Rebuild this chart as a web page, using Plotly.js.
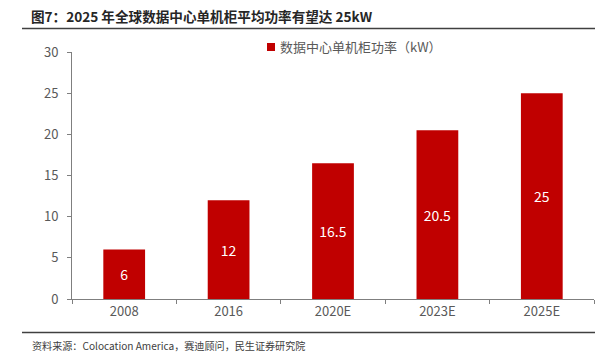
<!DOCTYPE html>
<html><head><meta charset="utf-8">
<script src="https://cdn.plot.ly/plotly-3.0.1.min.js"></script>
<style>html,body{margin:0;padding:0;background:#fff}#c{width:606px;height:358px}</style>
</head><body><div id="c"></div>
<script>
const categories = ["2008", "2016", "2020E", "2023E", "2025E"];
const values = [6, 12, 16.5, 20.5, 25];
const valueLabels = ["6", "12", "16.5", "20.5", "25"];
const seriesName = "数据中心单机柜功率（kW）";
const yTicks = [0, 5, 10, 15, 20, 25, 30];
const titleText = "图7：2025 年全球数据中心单机柜平均功率有望达 25kW";
const sourceText = "资料来源：Colocation America，赛迪顾问，民生证券研究院";

const FONT = "'Noto Sans CJK SC', 'Noto Sans', sans-serif";
const BAR = "#C00000";
const data = [{
  type: "bar",
  x: categories,
  y: values,
  name: seriesName,
  text: valueLabels,
  textposition: "inside",
  insidetextanchor: "middle",
  textangle: 0,
  textfont: {color: "#ffffff", size: 14, family: FONT},
  marker: {color: BAR},
  width: 0.4,
  showlegend: false
}];
const W = 522, H = 247, L = 72, B = 299;
const px = v => (v - L) / W;
const py = v => (B - v) / H;
const layout = {
  width: 606, height: 358,
  margin: {l: 72, r: 12, t: 52, b: 59},
  paper_bgcolor: "#fff", plot_bgcolor: "#fff",
  font: {family: FONT, color: "#595959", size: 13},
  showlegend: false,
  xaxis: {type: "category", showline: true, linecolor: "#7f7f7f", linewidth: 1,
          ticks: "outside", tickson: "boundaries", ticklen: 4, tickcolor: "#7f7f7f",
          tickfont: {size: 13, color: "#595959"}, showgrid: false, zeroline: false},
  yaxis: {range: [0, 30], tickvals: yTicks, showline: true, linecolor: "#7f7f7f", linewidth: 1,
          ticks: "outside", ticklen: 4, tickcolor: "#7f7f7f", showgrid: false, zeroline: false,
          tickfont: {size: 13, color: "#595959"}, ticklabelstandoff: 6},
  annotations: [
    {xref: "paper", yref: "paper", x: px(29), y: py(15.5), xanchor: "left", yanchor: "middle",
     text: "<b>" + titleText + "</b>", showarrow: false, font: {size: 13.6, color: "#262626", family: FONT}},
    {xref: "paper", yref: "paper", x: px(278), y: py(47), xanchor: "left", yanchor: "middle",
     text: seriesName, showarrow: false, font: {size: 13, color: "#595959", family: FONT}},
    {xref: "paper", yref: "paper", x: px(30), y: py(345), xanchor: "left", yanchor: "middle",
     text: sourceText, showarrow: false, font: {size: 10.1, color: "#404040", family: FONT}}
  ],
  shapes: [
    {type: "rect", xref: "paper", yref: "paper", x0: px(267), x1: px(275), y0: py(51), y1: py(43),
     fillcolor: BAR, line: {width: 0}},
    {type: "line", xref: "paper", yref: "paper", x0: px(22), x1: px(595),
     y0: py(28.5), y1: py(28.5), line: {color: "#404040", width: 1.3}},
    {type: "line", xref: "paper", yref: "paper", x0: px(22), x1: px(595),
     y0: py(332.5), y1: py(332.5), line: {color: "#404040", width: 1.3}}
  ]
};
Plotly.newPlot("c", data, layout, {staticPlot: true, displayModeBar: false});
</script></body></html>
